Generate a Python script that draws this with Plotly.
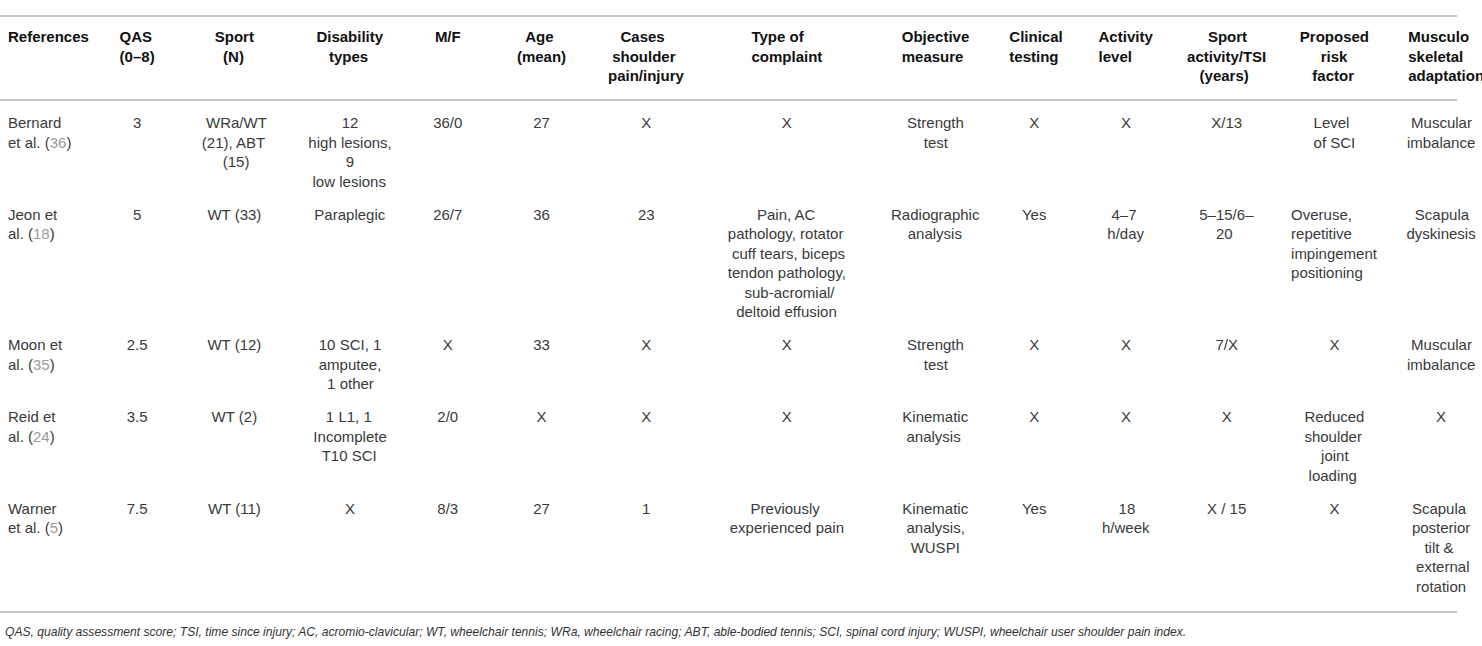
import re
import plotly.graph_objects as go

# ── Contenido de la tabla ─────────────────────────────────────
encabezados = [
    "References", "QAS<br>(0–8)", "Sport<br>(N)", "Disability<br>types", "M/F",
    "Age<br>(mean)", "Cases<br>shoulder<br>pain/injury", "Type of<br>complaint",
    "Objective<br>measure", "Clinical<br>testing", "Activity<br>level",
    "Sport<br>activity/TSI<br>(years)", "Proposed<br>risk<br>factor",
    "Musculo<br>skeletal<br>adaptation",
]

autores = ["Bernard<br>et al.", "Jeon et<br>al.", "Moon et<br>al.", "Reid et<br>al.", "Warner<br>et al."]
num_ref = [36, 18, 35, 24, 5]
qas = ["3", "5", "2.5", "3.5", "7.5"]
deporte = ["WRa/WT<br>(21), ABT<br>(15)", "WT (33)", "WT (12)", "WT (2)", "WT (11)"]
discapacidad = [
    "12<br>high lesions,<br>9<br>low lesions",
    "Paraplegic",
    "10 SCI, 1<br>amputee,<br>1 other",
    "1 L1, 1<br>Incomplete<br>T10 SCI",
    "X",
]
sexo_mf = ["36/0", "26/7", "X", "2/0", "8/3"]
edad = ["27", "36", "33", "X", "27"]
casos = ["X", "23", "X", "X", "1"]
queja = [
    "X",
    "Pain, AC<br>pathology, rotator<br>cuff tears, biceps<br>tendon pathology,<br>sub-acromial/<br>deltoid effusion",
    "X",
    "X",
    "Previously<br>experienced pain",
]
medida = ["Strength<br>test", "Radiographic<br>analysis", "Strength<br>test",
          "Kinematic<br>analysis", "Kinematic<br>analysis,<br>WUSPI"]
clinico = ["X", "Yes", "X", "X", "Yes"]
actividad = ["X", "4–7<br>h/day", "X", "X", "18<br>h/week"]
deporte_tsi = ["X/13", "5–15/6–<br>20", "7/X", "X", "X / 15"]
riesgo = ["Level<br>of SCI", "Overuse,<br>repetitive<br>impingement<br>positioning", "X",
          "Reduced<br>shoulder<br>joint<br>loading", "X"]
adaptacion = ["Muscular<br>imbalance", "Scapula<br>dyskinesis", "Muscular<br>imbalance", "X",
              "Scapula<br>posterior<br>tilt &amp;<br>external<br>rotation"]

nota = ("QAS, quality assessment score; TSI, time since injury; AC, acromio-clavicular; "
        "WT, wheelchair tennis; WRa, wheelchair racing; ABT, able-bodied tennis; "
        "SCI, spinal cord injury; WUSPI, wheelchair user shoulder pain index.")

W, H = 1482, 646
FUENTE = "Liberation Sans, Arial, sans-serif"
anchos = [105, 65, 130, 102, 94, 94, 116, 166, 132, 66, 118, 84, 132, 82]

# Ancho aproximado de los caracteres (métrica tipo Arial, milésimas de em)
ANCHO_CAR = {"i": 222, "l": 222, "j": 222, "f": 278, "t": 278, " ": 278, "I": 278,
             "/": 278, ",": 278, ".": 278, "r": 333, "(": 333, ")": 333, "-": 333,
             "c": 500, "k": 500, "s": 500, "v": 500, "x": 500, "y": 500, "z": 500,
             "m": 833, "w": 722, "M": 833, "W": 944, "&": 667}


def ancho(txt):
    txt = re.sub(r"<[^>]+>", "", txt).replace("&amp;", "&")
    return sum(ANCHO_CAR.get(ch, 700 if ch.isupper() else 556) for ch in txt)


def centrar(celda):
    # la tabla de plotly alinea el bloque, no cada línea: se rellena con espacios duros
    lineas = celda.split("<br>")
    if len(lineas) == 1:
        return f"<span>{celda}</span>"
    m = max(ancho(l) for l in lineas)
    return "<br>".join("\u00a0" * round((m - ancho(l)) / 2 / 278) + l for l in lineas)


referencias = [f"{a} (<span style='color:#9a9a9a'>{n}</span>)" for a, n in zip(autores, num_ref)]
columnas = [referencias, qas, deporte, discapacidad, sexo_mf, edad, casos, queja,
            medida, clinico, actividad, deporte_tsi, riesgo, adaptacion]

# celdas que en el original van alineadas en bloque
sin_centrar = {(12, 1)}
valores = [columnas[0]] + [
    [c if (i, j) in sin_centrar else centrar(c) for j, c in enumerate(col)]
    for i, col in enumerate(columnas) if i > 0
]

cab_centradas = {2, 3, 5, 6, 11, 12}
cabeceras = [f"<b>{centrar(h) if i in cab_centradas else h}</b>" for i, h in enumerate(encabezados)]

alin_header = ["left"] + ["center"] * 8 + ["left"] + ["center"] * 3 + ["left"]
alin_cells = ["left"] + ["center"] * 13

fig = go.Figure(go.Table(
    domain=dict(x=[0, 1], y=[0, 1 - 20 / H]),
    columnwidth=anchos,
    header=dict(
        values=cabeceras,
        align=alin_header,
        fill_color="white",
        line=dict(color="white", width=0),
        font=dict(family=FUENTE, size=15, color="#111111"),
        height=86,
    ),
    cells=dict(
        values=valores,
        align=alin_cells,
        fill_color="white",
        line=dict(color="white", width=0),
        font=dict(family=FUENTE, size=15, color="#3a3a3a"),
        height=20,
    ),
))

# Líneas horizontales del estilo de tabla de revista
for y_px in (16, 100, 612):
    fig.add_shape(type="line", xref="paper", yref="paper",
                  x0=0, x1=1457 / W, y0=1 - y_px / H, y1=1 - y_px / H,
                  line=dict(color="#b3b3b3", width=1.5))

fig.add_annotation(
    text=f"<i>{nota}</i>", xref="paper", yref="paper",
    x=3 / W, y=1 - 632 / H, xanchor="left", yanchor="middle",
    showarrow=False, font=dict(family=FUENTE, size=12.1, color="#333333"),
)

fig.update_layout(
    width=W, height=H,
    margin=dict(l=0, r=0, t=0, b=0),
    paper_bgcolor="white", plot_bgcolor="white",
)

# sin el margen por defecto del <body> y sin barra de herramientas
fig.write_html("out.html", config={"displayModeBar": False},
               post_script="document.body.style.margin = '0';")
